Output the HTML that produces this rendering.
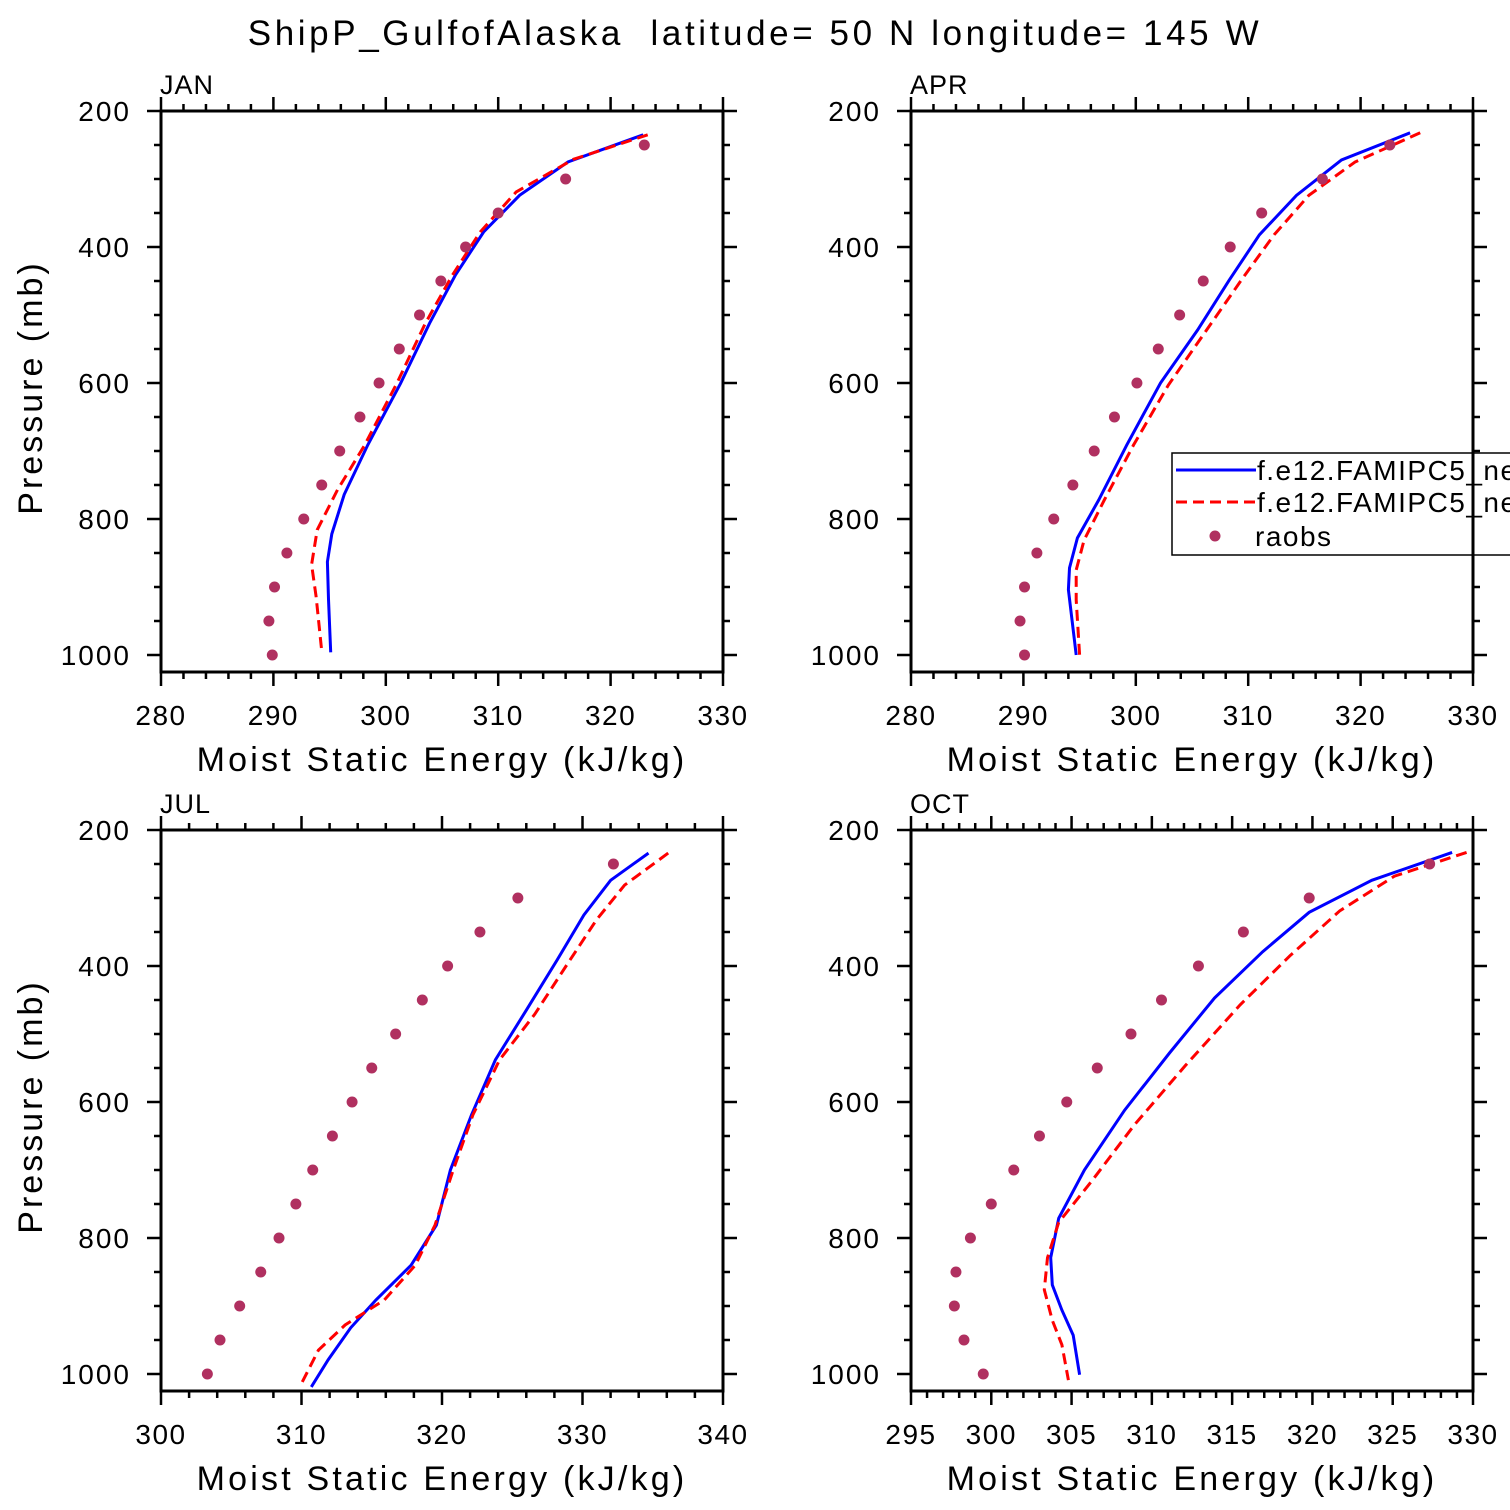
<!DOCTYPE html>
<html><head><meta charset="utf-8"><style>
html,body{margin:0;padding:0;background:#fff;}
svg{display:block;font-family:"Liberation Sans","DejaVu Sans",sans-serif;}
</style></head><body>
<svg id="chart" width="1510" height="1510" viewBox="0 0 1510 1510" xmlns="http://www.w3.org/2000/svg">
<text x="755" y="45" text-anchor="middle" font-size="35" letter-spacing="3.6" xml:space="preserve">ShipP_GulfofAlaska  latitude= 50 N longitude= 145 W</text>
</svg>
<script>
const obsPres=[250,300,350,400,450,500,550,600,650,700,750,800,850,900,950,1000];
const janBlueP=[235,275,324,378,441,512,601,691,764,822,863,918,996];
const janBlueV=[322.9,316.2,311.9,308.7,306.2,303.9,301.3,298.4,296.3,295.2,294.8,294.9,295.1];
const janRedP=[235,271,319,378,442,513,600,692,757,816,867,914,994];
const janRedV=[323.3,316.7,311.6,308.4,305.9,303.5,301.0,298.1,295.7,293.9,293.4,293.8,294.3];
const janObs=[323.0,316.0,310.0,307.1,304.9,303.0,301.2,299.4,297.7,295.9,294.3,292.7,291.2,290.1,289.6,289.9];
const aprBlueP=[232,272,324,382,449,522,600,691,772,828,872,904,1000];
const aprBlueV=[324.4,318.3,314.3,311.0,308.3,305.5,302.2,299.2,296.7,294.8,294.1,294.0,294.7];
const aprRedP=[232,275,324,382,446,522,603,691,772,831,875,919,1000];
const aprRedV=[325.3,319.5,315.4,312.3,309.5,306.3,302.9,299.8,297.2,295.4,294.7,294.7,295.0];
const aprObs=[322.6,316.6,311.2,308.4,306.0,303.9,302.0,300.1,298.1,296.3,294.4,292.7,291.2,290.1,289.7,290.1];
const julBlueP=[234,274,325,391,465,538,619,700,781,840,891,932,979,1019];
const julBlueV=[334.7,332.0,330.1,328.2,326.0,323.8,322.1,320.6,319.6,317.8,315.3,313.5,311.9,310.7];
const julRedP=[234,281,332,398,471,538,619,700,781,840,891,928,965,1014];
const julRedV=[336.1,333.0,331.0,328.9,326.6,324.1,322.2,320.8,319.5,318.1,315.9,313.1,311.2,310.0];
const julObs=[332.2,325.4,322.7,320.4,318.6,316.7,315.0,313.6,312.2,310.8,309.6,308.4,307.1,305.6,304.2,303.3];
const octBlueP=[233,274,321,379,447,528,612,700,771,829,869,906,943,1001];
const octBlueV=[328.7,323.7,319.8,316.9,313.9,311.1,308.3,305.8,304.2,303.7,303.8,304.4,305.1,305.5];
const octRedP=[233,268,319,385,457,546,634,715,777,829,876,921,957,1009];
const octRedV=[329.6,325.1,321.7,318.6,315.5,312.1,308.9,306.3,304.2,303.5,303.3,303.8,304.4,304.8];
const octObs=[327.3,319.8,315.7,312.9,310.6,308.7,306.6,304.7,303.0,301.4,300.0,298.7,297.8,297.7,298.3,299.5];
const yTicks=[200,400,600,800,1000];
const xTicksA=[280,290,300,310,320,330];
const xTicksJ=[300,310,320,330,340];
const xTicksO=[295,300,305,310,315,320,325,330];

const svg=document.getElementById('chart');
const NS='http://www.w3.org/2000/svg';
function mk(tag,attrs,parent){const e=document.createElementNS(NS,tag);for(const k in attrs)e.setAttribute(k,attrs[k]);(parent||svg).appendChild(e);return e;}

const panels=[
 {name:'jan',label:'JAN',x0:161,y0:111,xmin:280,xmax:330,xt:xTicksA,minor:2,bp:janBlueP,bv:janBlueV,rp:janRedP,rv:janRedV,ob:janObs,ytitle:true},
 {name:'apr',label:'APR',x0:911,y0:111,xmin:280,xmax:330,xt:xTicksA,minor:2,bp:aprBlueP,bv:aprBlueV,rp:aprRedP,rv:aprRedV,ob:aprObs,ytitle:false},
 {name:'jul',label:'JUL',x0:161,y0:830,xmin:300,xmax:340,xt:xTicksJ,minor:2,bp:julBlueP,bv:julBlueV,rp:julRedP,rv:julRedV,ob:julObs,ytitle:true},
 {name:'oct',label:'OCT',x0:911,y0:830,xmin:295,xmax:330,xt:xTicksO,minor:1,bp:octBlueP,bv:octBlueV,rp:octRedP,rv:octRedV,ob:octObs,ytitle:false}
];
const W=562,H=561,PMIN=200,PMAX=1025;
panels.forEach(p=>{
 const g=mk('g',{});
 
 
 const xs=v=>p.x0+(v-p.xmin)/(p.xmax-p.xmin)*W;
 const ys=v=>p.y0+(v-PMIN)/(PMAX-PMIN)*H;
 const lab=mk('text',{x:p.x0-1,y:p.y0-17,'font-size':27,'letter-spacing':1},g);lab.textContent=p.label;
 
 
 const pts=(P,V)=>P.map((pp,i)=>xs(V[i]).toFixed(1)+','+ys(pp).toFixed(1)).join(' ');
 const bl=mk('polyline',{points:pts(p.bp,p.bv),fill:'none',stroke:'#0000ff','stroke-width':3},g);
 
 
 const rl=mk('polyline',{points:pts(p.rp,p.rv),fill:'none',stroke:'#ff0000','stroke-width':3,'stroke-dasharray':'11,6'},g);
 
 
 obsPres.forEach((pp,i)=>{
  const c=mk('circle',{cx:xs(p.ob[i]),cy:ys(pp),r:5.5,fill:'#b03060'},g);
  
  
 });
 const fr=mk('rect',{x:p.x0,y:p.y0,width:W,height:H,fill:'none',stroke:'#000','stroke-width':3},g);
 
 
 let tk='';
 for(let v=p.xmin;v<=p.xmax+1e-6;v+=p.minor){const x=xs(v);const major=p.xt.some(t=>Math.abs(t-v)<1e-6);const L=major?14:7;
  tk+=`M${x},${p.y0}v${-L}M${x},${p.y0+H}v${L}`;}
 for(let v=200;v<=1000;v+=50){const y=ys(v);const major=yTicks.includes(v);const L=major?14:7;
  tk+=`M${p.x0},${y}h${-L}M${p.x0+W},${y}h${L}`;}
 const t=mk('path',{d:tk,stroke:'#000','stroke-width':2.5,fill:'none'},g);
 
 
 p.xt.forEach(v=>{const e=mk('text',{x:xs(v),y:p.y0+H+53,'font-size':28,'letter-spacing':1.5,'text-anchor':'middle'},g);e.textContent=v;
  
  });
 yTicks.forEach(v=>{const e=mk('text',{x:p.x0-30,y:ys(v)+10,'font-size':28,'letter-spacing':2,'text-anchor':'end'},g);e.textContent=v;
  
  });
 const xt=mk('text',{x:p.x0+W/2,y:p.y0+H+99,'font-size':34,'text-anchor':'middle','letter-spacing':'3.2'},g);xt.textContent='Moist Static Energy (kJ/kg)';
 
 
 if(p.ytitle){const cy=p.y0+H/2-4;const yt=mk('text',{x:42,y:cy,'font-size':34,'text-anchor':'middle','letter-spacing':'3',transform:`rotate(-90 42 ${cy})`},g);yt.textContent='Pressure (mb)';
  
  }
});
const lg=mk('g',{});


mk('rect',{x:1172,y:453,width:345,height:102,fill:'#fff',stroke:'#000','stroke-width':1.5},lg);
mk('line',{x1:1176,y1:470,x2:1256,y2:470,stroke:'#0000ff','stroke-width':3},lg);
mk('line',{x1:1176,y1:502,x2:1256,y2:502,stroke:'#ff0000','stroke-width':3,'stroke-dasharray':'11,6'},lg);
mk('circle',{cx:1215,cy:536,r:5.5,fill:'#b03060'},lg);
[['f.e12.FAMIPC5_ne',480],['f.e12.FAMIPC5_ne',512],['raobs',546]].forEach((d,i)=>{
 const e=mk('text',{x:i==2?1255:1257,y:d[1]+0,'font-size':28,'letter-spacing':1.5},lg);e.textContent=d[0];
 
 
});
mk('line',{x1:1473,y1:111,x2:1473,y2:672,stroke:'#000','stroke-width':3});
</script>
</body></html>
